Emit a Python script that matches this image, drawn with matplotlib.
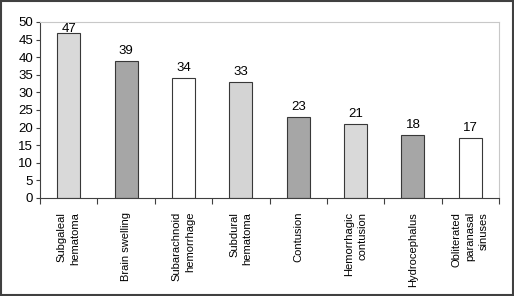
import numpy as np
import matplotlib
matplotlib.use('Agg')
import matplotlib.pyplot as plt
from matplotlib.patches import Rectangle

plt.rcParams['font.family'] = ['Liberation Sans', 'DejaVu Sans']

categories = ['Subgaleal\nhematoma', 'Brain swelling', 'Subarachnoid\nhemorrhage',
              'Subdural\nhematoma', 'Contusion', 'Hemorrhagic\ncontusion',
              'Hydrocephalus', 'Obliterated\nparanasal\nsinuses']
values = [47, 39, 34, 33, 23, 21, 18, 17]
colors = ['#d9d9d9', '#a6a6a6', '#ffffff', '#d4d4d4',
          '#a6a6a6', '#d9d9d9', '#a6a6a6', '#ffffff']

fig = plt.figure(figsize=(5.14, 2.96), dpi=100)
ax = fig.add_axes([40/514, 1 - 198/296, 459/514, 176/296])

x = np.arange(len(values))
ax.bar(x, values, width=0.4, color=colors, edgecolor='#383838', linewidth=0.8)
ymax = 50
for xi, v in zip(x, values):
    # keep label inside the plot area, as the original does for the tallest bar
    ax.text(xi, min(v + 2, ymax - 2.9), str(v), ha='center', va='baseline', fontsize=9.5)

ax.set_xlim(-0.5, len(values) - 0.5)
ax.set_ylim(0, ymax)
ax.set_yticks(range(0, 51, 5))
ax.tick_params(axis='y', labelsize=9.5, length=3, width=0.8, color='#404040', pad=2)

ax.set_xticks(x)
ax.set_xticklabels(categories, rotation=90, ha='center', va='top',
                   multialignment='right', fontsize=8, linespacing=1.45)
ax.tick_params(axis='x', length=0, pad=10)
ax.set_xticks(np.arange(-0.5, len(values)), minor=True)
ax.tick_params(axis='x', which='minor', length=4, width=0.8, color='#404040')

ax.spines['left'].set_color('#404040')
ax.spines['bottom'].set_color('#404040')
ax.spines['top'].set_color('#c8c8c8')
ax.spines['right'].set_color('#c8c8c8')
for s in ax.spines.values():
    s.set_linewidth(0.8)

fig.patches.append(Rectangle((0.002, 0.003), 0.996, 0.994, transform=fig.transFigure,
                             fill=False, edgecolor='#404040', linewidth=1.5))

fig.savefig('out.png', dpi=100)
